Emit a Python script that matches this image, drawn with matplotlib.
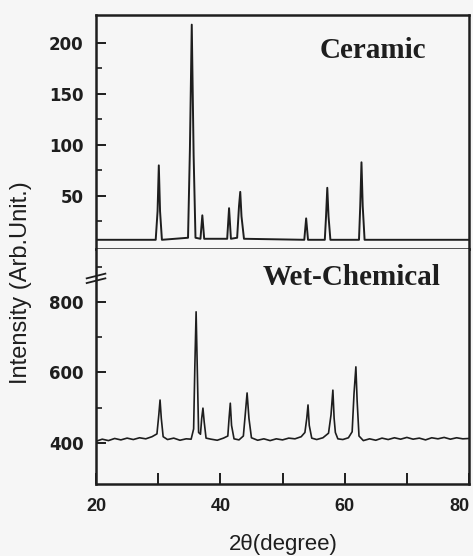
import numpy as np
import matplotlib
matplotlib.use("Agg")
import matplotlib.pyplot as plt

# Ceramic trace (2theta, intensity)
cer_2t = [20, 29.6, 29.9, 30.1, 30.3, 30.6, 34.8, 35.1, 35.4, 35.7, 36.0,
          36.8, 37.1, 37.4, 41.1, 41.4, 41.7, 42.7, 43.0, 43.2, 43.4, 43.8,
          53.5, 53.8, 54.1, 56.8, 57.0, 57.2, 57.4, 57.7, 62.3, 62.5, 62.7,
          62.9, 63.2, 80]
cer_int = [7, 7, 35, 80, 35, 7, 9, 95, 218, 90, 9,
           8, 31, 8, 8, 38, 8, 9, 40, 54, 30, 8,
           7, 28, 7, 7, 30, 58, 30, 7, 7, 40, 83,
           40, 7, 7]

# Wet-chemical trace (2theta, intensity)
wet_2t = [20, 21, 22, 23, 24, 25, 26, 27, 28, 29, 29.8, 30.1, 30.3, 30.5, 30.8,
          31.5, 32.5, 33.5, 34.5, 35.3, 35.7, 35.9, 36.1, 36.3, 36.5, 36.8, 37.0,
          37.2, 37.4, 37.7, 38.5, 39.5, 40.5, 41.2, 41.4, 41.6, 41.8, 42.2, 43.0,
          43.7, 44.0, 44.3, 44.6, 45.0, 46.0, 47.0, 48.0, 49.0, 50.0, 51.0, 52.0,
          53.0, 53.6, 53.9, 54.1, 54.3, 54.7, 55.5, 56.5, 57.4, 57.8, 58.1, 58.3,
          58.5, 58.9, 59.7, 60.6, 61.2, 61.5, 61.8, 62.0, 62.3, 63.0, 64, 65, 66,
          67, 68, 69, 70, 71, 72, 73, 74, 75, 76, 77, 78, 79, 80]
wet_int = [405, 411, 407, 413, 409, 414, 410, 415, 412, 418, 426, 480, 522, 470, 418,
           410, 414, 408, 412, 411, 440, 620, 772, 600, 430, 425, 470, 499,
           460, 414, 411, 408, 414, 420, 470, 513, 450, 412, 409,
           420, 480, 542, 470, 415, 408, 412, 407, 412, 409, 414, 412,
           418, 430, 470, 508, 450, 414, 410, 415, 428, 480, 550, 470,
           430, 412, 410, 415, 432, 540, 616, 520, 420, 407, 412, 408, 414,
           410, 415, 411, 416, 411, 414, 409, 415, 412, 416, 411, 415, 412, 413]

x_ticks = [20, 30, 40, 50, 60, 70, 80]
x_labels = ["20", "", "40", "", "60", "", "80"]
cer_ticks = [50, 100, 150, 200]
wet_ticks = [400, 600, 800]

ink = "#1e1e1e"
bg = "#f6f6f6"

fig = plt.figure(figsize=(4.73, 5.56), dpi=100, facecolor=bg)
ax1 = fig.add_axes([0.203, 0.5522, 0.7886, 0.4209], facecolor=bg)
ax2 = fig.add_axes([0.203, 0.1295, 0.7886, 0.4227], facecolor=bg)

ax1.plot(cer_2t, cer_int, color=ink, lw=1.4)
ax2.plot(wet_2t, wet_int, color=ink, lw=1.2)

ax1.set_xlim(20, 80)
ax2.set_xlim(20, 80)
ax1.set_ylim(-2, 227.5)
ax2.set_ylim(284, 950)

for ax in (ax1, ax2):
    for s in ax.spines.values():
        s.set_linewidth(1.8)
        s.set_color(ink)
ax2.spines["top"].set_visible(False)

ax1.set_xticks([])
ax1.set_yticks(cer_ticks)
ax1.set_yticks([25, 75, 125, 175], minor=True)
ax2.set_yticks(wet_ticks)
ax2.set_yticks([500, 700, 900], minor=True)
for ax in (ax1, ax2):
    ax.tick_params(axis="y", which="major", direction="in", length=7, width=1.4,
                   labelsize=12, colors=ink, pad=9)
    ax.tick_params(axis="y", which="minor", direction="in", length=4, width=1.2,
                   colors=ink)
ax2.set_xticks(x_ticks)
ax2.set_xticklabels(x_labels)
ax2.tick_params(axis="x", direction="in", length=8, width=1.4, labelsize=13,
                colors=ink, pad=10)

for ax in (ax1, ax2):
    for lab in ax.get_yticklabels():
        lab.set_fontweight("bold")
        lab.set_family("DejaVu Sans")
for lab in ax2.get_xticklabels():
    lab.set_fontweight("bold")
    lab.set_family("Liberation Sans")
ax2.get_xticklabels()[-1].set_horizontalalignment("right")
ax2.get_xticklabels()[-1].set_x(80.6)

ax1.text(0.743, 0.85, "Ceramic", transform=ax1.transAxes, ha="center", va="center",
         family="Liberation Serif", weight="bold", fontsize=21, color=ink)
ax2.text(0.686, 0.88, "Wet-Chemical", transform=ax2.transAxes, ha="center", va="center",
         family="Liberation Serif", weight="bold", fontsize=21, color=ink)

# axis break mark on the left spine
ax2.plot([-0.025, 0.025], [0.875, 0.895], transform=ax2.transAxes, color=ink,
         lw=1.3, clip_on=False)
ax2.plot([-0.025, 0.025], [0.855, 0.875], transform=ax2.transAxes, color=ink,
         lw=1.3, clip_on=False)

fig.text(0.045, 0.491, "Intensity (Arb.Unit.)", rotation=90, ha="center", va="center",
         family="Liberation Sans", fontsize=17, color=ink)
fig.text(0.598, 0.02, "2θ(degree)", ha="center", va="center",
         family="Liberation Sans", fontsize=16, color=ink)

fig.savefig("out.png", dpi=100, facecolor=bg)
